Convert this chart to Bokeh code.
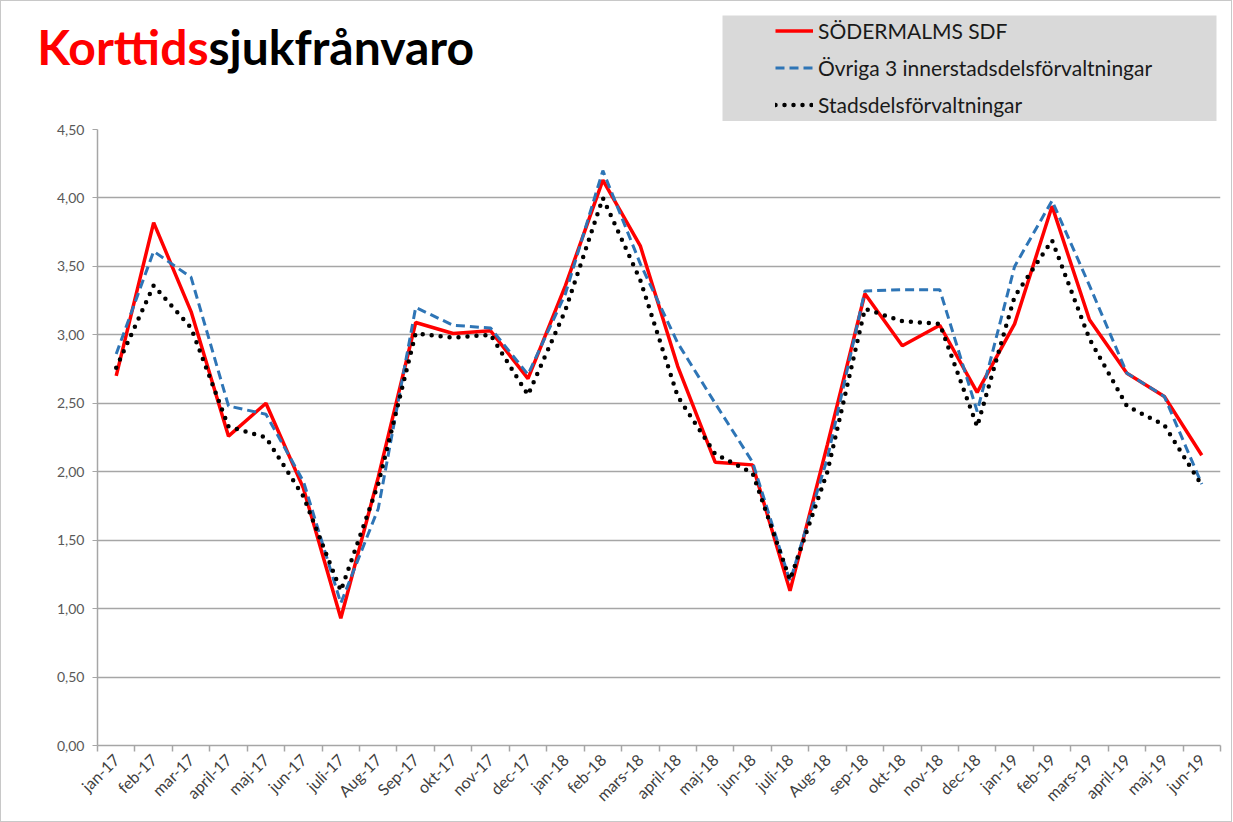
from math import pi
from bokeh.plotting import figure
from bokeh.layouts import column
from bokeh.models import (Range1d, FixedTicker, CustomJSTickFormatter, Label,
                          Legend, LegendItem, BoxAnnotation, ColumnDataSource)
from bokeh.embed import file_html
from bokeh.resources import INLINE

months = ["jan-17", "feb-17", "mar-17", "april-17", "maj-17", "jun-17", "juli-17",
          "Aug-17", "Sep-17", "okt-17", "nov-17", "dec-17", "jan-18", "feb-18",
          "mars-18", "april-18", "maj-18", "jun-18", "juli-18", "Aug-18", "sep-18",
          "okt-18", "nov-18", "dec-18", "jan-19", "feb-19", "mars-19", "april-19",
          "maj-19", "jun-19"]

sodermalm = [2.70, 3.82, 3.17, 2.26, 2.50, 1.88, 0.93, 1.96, 3.09, 3.01, 3.03, 2.68,
             3.36, 4.13, 3.65, 2.77, 2.07, 2.05, 1.13, 2.20, 3.30, 2.92, 3.07, 2.58,
             3.08, 3.94, 3.11, 2.72, 2.55, 2.12]

ovriga = [2.86, 3.61, 3.42, 2.48, 2.42, 1.93, 1.04, 1.73, 3.20, 3.07, 3.05, 2.71,
          3.30, 4.20, 3.52, 2.94, 2.50, 2.07, 1.20, 2.10, 3.32, 3.33, 3.33, 2.44,
          3.50, 3.98, 3.36, 2.72, 2.55, 1.91]

stadsdel = [2.76, 3.36, 3.05, 2.33, 2.25, 1.82, 1.13, 1.91, 3.01, 2.98, 3.00, 2.56,
            3.18, 4.00, 3.40, 2.55, 2.13, 1.99, 1.21, 2.00, 3.19, 3.10, 3.08, 2.33,
            3.28, 3.69, 2.97, 2.48, 2.34, 1.90]

y_ticks = [0.0, 0.5, 1.0, 1.5, 2.0, 2.5, 3.0, 3.5, 4.0, 4.5]

series_names = ["SÖDERMALMS SDF", "Övriga 3 innerstadsdelsförvaltningar",
                "Stadsdelsförvaltningar"]

title_red = "Korttids"
title_black = "sjukfrånvaro"

FONT = "Lato"
GRID = "#a6a6a6"
COLORS = ["#ff0000", "#2e75b6", "#000000"]
W = 1230
HEAD_H = 120
MAIN_H = 700

idx = list(range(len(months)))
src = ColumnDataSource(dict(x=idx, s=sodermalm, o=ovriga, a=stadsdel))


def add_series(fig, **kw):
    a = fig.line("x", "s", source=src, line_color=COLORS[0], line_width=3.5, **kw)
    b = fig.line("x", "o", source=src, line_color=COLORS[1], line_width=3,
                 line_dash="9 5", **kw)
    c = fig.line("x", "a", source=src, line_color=COLORS[2], line_width=4.5,
                 line_dash="0 9", line_cap="round", **kw)
    return a, b, c


# ---------------- main chart ----------------
p = figure(width=W, height=MAIN_H, output_backend="svg", toolbar_location=None,
           x_range=Range1d(-0.5, len(months) - 0.5),
           y_range=Range1d(y_ticks[0], y_ticks[-1]),
           min_border_left=96, min_border_top=8, min_border_right=11,
           min_border_bottom=76)
p.outline_line_color = None
add_series(p)

p.xgrid.grid_line_color = None
p.ygrid.grid_line_color = GRID
p.ygrid.grid_line_width = 1.6
p.ygrid.ticker = FixedTicker(ticks=y_ticks)

p.yaxis.ticker = FixedTicker(ticks=y_ticks)
p.yaxis.formatter = CustomJSTickFormatter(code="return tick.toFixed(2).replace('.', ',');")
p.yaxis.axis_line_color = GRID
p.yaxis.axis_line_width = 1.5
p.yaxis.major_tick_line_color = GRID
p.yaxis.major_tick_in = 0
p.yaxis.major_tick_out = 5
p.yaxis.minor_tick_line_color = None
p.yaxis.major_label_text_font = FONT
p.yaxis.major_label_text_font_size = "14px"
p.yaxis.major_label_text_color = "#595959"
p.yaxis.major_label_standoff = 8

p.xaxis.ticker = FixedTicker(ticks=idx, minor_ticks=[i - 0.5 for i in range(len(months) + 1)])
p.xaxis.formatter = CustomJSTickFormatter(
    args=dict(labels=months),
    code="const i = Math.round(tick); return (i >= 0 && i < labels.length) ? labels[i] : '';")
p.xaxis.axis_line_color = GRID
p.xaxis.axis_line_width = 1.5
p.xaxis.major_tick_line_color = None
p.xaxis.minor_tick_line_color = GRID
p.xaxis.minor_tick_line_width = 1.5
p.xaxis.minor_tick_in = 0
p.xaxis.minor_tick_out = 6
p.xaxis.major_label_orientation = pi / 4
p.xaxis.major_label_text_font = FONT
p.xaxis.major_label_text_font_size = "16px"
p.xaxis.major_label_text_color = "#404040"
p.xaxis.major_label_standoff = 5

# ---------------- header: title + legend ----------------
h = figure(width=W, height=HEAD_H, output_backend="svg", toolbar_location=None,
           x_range=Range1d(0, W), y_range=Range1d(0, HEAD_H),
           min_border=0, x_axis_type=None, y_axis_type=None)
h.frame_align = False
h.outline_line_color = None
h.xgrid.grid_line_color = None
h.ygrid.grid_line_color = None
# the series are drawn here only to feed the legend; their own range keeps them out of view
h.extra_x_ranges = {"hid": Range1d(1000, 1001)}
h.extra_y_ranges = {"hid": Range1d(1000, 1001)}

h.add_layout(BoxAnnotation(left=721, right=1215, top=106, bottom=0,
                           fill_color="#d9d9d9", fill_alpha=1.0, line_color=None,
                           level="underlay"))

h.add_layout(Label(x=207, y=75, text=title_red, text_color="#ff0000",
                   text_font=FONT, text_font_style="bold", text_font_size="48px",
                   text_align="right", text_baseline="alphabetic"))
h.add_layout(Label(x=207, y=75, text=title_black, text_color="#000000",
                   text_font=FONT, text_font_style="bold", text_font_size="48px",
                   text_align="left", text_baseline="alphabetic"))

l1, l2, l3 = add_series(h, x_range_name="hid", y_range_name="hid")

legend = Legend(items=[LegendItem(label=series_names[0], renderers=[l1]),
                       LegendItem(label=series_names[1], renderers=[l2]),
                       LegendItem(label=series_names[2], renderers=[l3])],
                location=(774, 4), orientation="vertical",
                background_fill_alpha=0, border_line_color=None,
                padding=0, margin=0, spacing=12, label_height=23,
                glyph_width=38, glyph_height=23, label_standoff=5,
                label_text_font=FONT, label_text_font_size="21px",
                label_text_color="#1a1a1a")
h.add_layout(legend)

layout = column(h, p, spacing=0)
layout.styles = {"border": "1px solid #c8c8c8"}

open("out.html", "w").write(file_html(layout, INLINE))
